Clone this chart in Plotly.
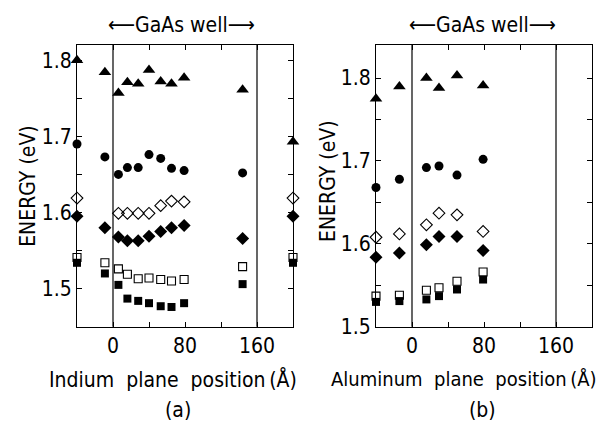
import plotly.graph_objects as go

# ---------- data: (a) Indium plane ----------
in_x = [-40, -9, 6, 16, 28, 40, 53, 65, 79, 144, 200]
in_tri = [1.800, 1.784, 1.757, 1.771, 1.769, 1.787, 1.772, 1.769, 1.777, 1.761, 1.693]
in_circ = [1.690, 1.673, 1.650, 1.659, 1.659, 1.676, 1.671, 1.658, 1.655, 1.652, None]
in_odia = [1.619, None, 1.599, 1.599, 1.599, 1.599, 1.609, 1.615, 1.614, None, 1.619]
in_fdia = [1.595, 1.580, 1.568, 1.563, 1.563, 1.569, 1.575, 1.580, 1.583, 1.566, 1.595]
in_osq = [1.541, 1.534, 1.526, 1.519, 1.513, 1.514, 1.512, 1.510, 1.512, 1.529, 1.541]
in_fsq = [1.534, 1.520, 1.505, 1.487, 1.484, 1.481, 1.477, 1.476, 1.481, 1.506, 1.534]

# ---------- data: (b) Aluminum plane ----------
al_x = [-40, -14, 16, 30, 50, 79]
al_tri = [1.775, 1.790, 1.800, 1.788, 1.803, 1.791]
al_circ = [1.668, 1.678, 1.692, 1.694, 1.683, 1.702]
al_odia = [1.608, 1.612, 1.623, 1.637, 1.635, 1.615]
al_fdia = [1.584, 1.589, 1.599, 1.609, 1.609, 1.592]
al_osq = [1.537, 1.538, 1.544, 1.547, 1.555, 1.566]
al_fsq = [1.530, 1.531, 1.533, 1.537, 1.545, 1.557]

x_ticks = [0, 80, 160]
y_ticks = [1.5, 1.6, 1.7, 1.8]
well_edges = [0, 160]

FONT = "DejaVu Sans Condensed, DejaVu Sans"
fig = go.Figure()

styles = [
    ("triangle-up", 11, "black", 0),
    ("circle", 9, "black", 0),
    ("diamond-open", 9, "black", 1.1),
    ("diamond", 10, "black", 0),
    ("square-open", 8, "black", 1.1),
    ("square", 8, "black", 0),
]

def add_series(xs, ys_list, xa, ya):
    for ys, (sym, sz, col, lw) in zip(ys_list, styles):
        fig.add_trace(go.Scatter(
            x=xs, y=ys, mode="markers", xaxis=xa, yaxis=ya,
            cliponaxis=False, showlegend=False,
            marker=dict(symbol=sym, size=sz, color=col,
                        line=dict(color="black", width=lw)),
        ))

add_series(in_x, [in_tri, in_circ, in_odia, in_fdia, in_osq, in_fsq], "x", "y")
add_series(al_x, [al_tri, al_circ, al_odia, al_fdia, al_osq, al_fsq], "x2", "y2")

ax_common = dict(
    showgrid=False, zeroline=False, showline=True, linecolor="black",
    linewidth=1.2, mirror="ticks", ticks="inside", ticklen=5,
    tickcolor="black", tickwidth=1.2,
    tickfont=dict(family=FONT, size=21, color="black"),
)

xa = dict(ax_common, range=[-40, 200], tickvals=x_ticks,
          ticktext=[str(v) for v in x_ticks],
          minor=dict(tickvals=[40, 120], ticks="inside", ticklen=5,
                     tickcolor="black", tickwidth=1.2))
fig.update_layout(
    xaxis=dict(xa, domain=[69/605, 285/605], anchor="y"),
    xaxis2=dict(xa, domain=[368/605, 584/605], anchor="y2"),
    yaxis=dict(ax_common, range=[1.45, 1.82], tickvals=y_ticks,
               ticktext=[f"{v:.1f}" for v in y_ticks],
               domain=[1-328/427, 1-38/427], anchor="x",
               minor=dict(tickvals=[1.55, 1.65, 1.75], ticks="inside", ticklen=5,
                          tickcolor="black", tickwidth=1.2)),
    yaxis2=dict(ax_common, range=[1.5, 1.84], tickvals=y_ticks,
                ticktext=[f"{v:.1f}" for v in y_ticks],
                domain=[1-328/427, 1-38/427], anchor="x2",
                minor=dict(tickvals=[1.55, 1.65, 1.75], ticks="inside", ticklen=5,
                           tickcolor="black", tickwidth=1.2)),
    width=605, height=427, margin=dict(l=0, r=0, t=0, b=0),
    paper_bgcolor="white", plot_bgcolor="white",
)

# vertical lines at the well edges
for xr, yr in [("x", "y domain"), ("x2", "y2 domain")]:
    for xv in well_edges:
        fig.add_shape(type="line", xref=xr, yref=yr, x0=xv, x1=xv, y0=0, y1=1,
                      line=dict(color="black", width=1.2))

def ann(text, x, y, size=21, angle=0):
    fig.add_annotation(text=text, x=x/605, y=1-y/427, xref="paper", yref="paper",
                       showarrow=False, textangle=angle,
                       font=dict(family=FONT, size=size, color="black"),
                       xanchor="center", yanchor="middle")

ann("\u27f5GaAs well\u27f6", 174, 17)
ann("\u27f5GaAs well\u27f6", 474, 17)
ann("ENERGY (eV)", 20, 183, angle=-90)
ann("ENERGY (eV)", 320, 178, angle=-90)
ann("Indium\u00a0 plane\u00a0 position\u2009(Å)", 165, 382)
ann("Aluminum\u00a0 plane\u00a0 position\u2009(Å)", 456, 382, size=20)
ann("(a)", 170, 414)
ann("(b)", 474, 414)

fig.write_html("out.html")
